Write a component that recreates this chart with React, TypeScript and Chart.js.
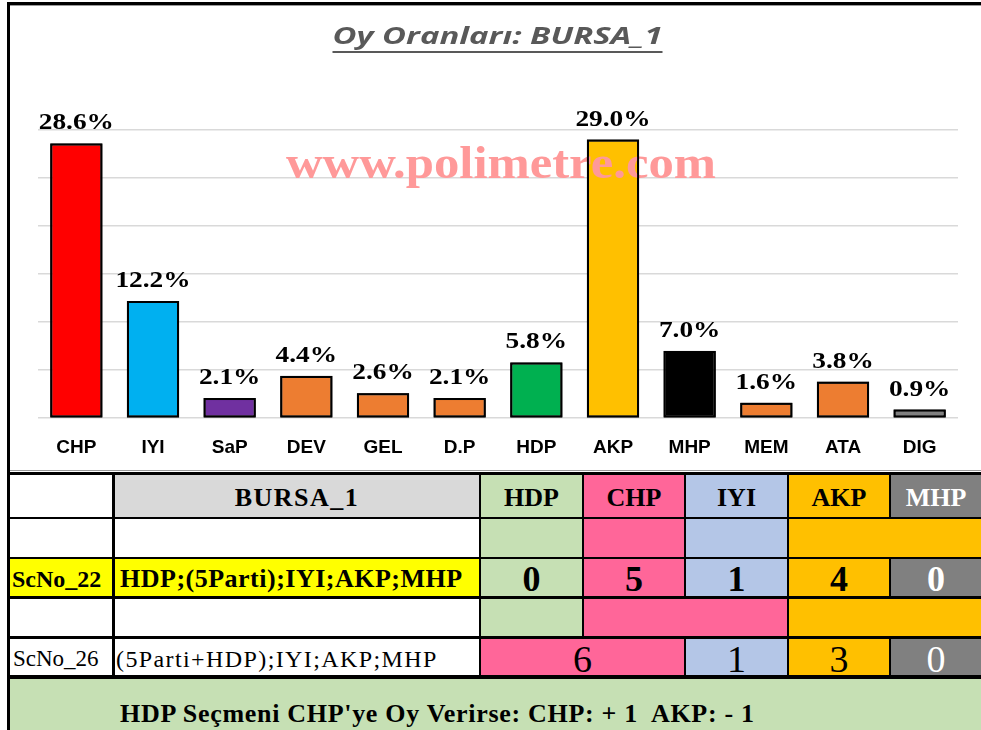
import React, { useEffect, useRef } from "react";
import { Chart, registerables } from "chart.js";

Chart.register(...registerables);

// ---------- chart data ----------
const categories = ["CHP", "IYI", "SaP", "DEV", "GEL", "D.P", "HDP", "AKP", "MHP", "MEM", "ATA", "DIG"];
const voteShares = [28.6, 12.2, 2.1, 4.4, 2.6, 2.1, 5.8, 29.0, 7.0, 1.6, 3.8, 0.9];
const barColors = [
  "#FF0000", "#00B0F0", "#7030A0", "#ED7D31", "#ED7D31", "#ED7D31",
  "#00B050", "#FFC000", "#000000", "#ED7D31", "#ED7D31", "#808080",
];
const yMin = 0;
const yMax = 30;
const yStep = 5;
const chartTitle = "Oy Oranları: BURSA_1";
const watermarkText = "www.polimetre.com";

// ---------- table data ----------
const districtName = "BURSA_1";
const tableParties = ["HDP", "CHP", "IYI", "AKP", "MHP"];
const tablePartyColors = ["#C6E0B4", "#FF6699", "#B4C6E7", "#FFC000", "#808080"];
const scenarioIds = ["ScNo_22", "ScNo_26"];
const scenarioOrders = ["HDP;(5Parti);IYI;AKP;MHP", "(5Parti+HDP);IYI;AKP;MHP"];
const scenario22Seats = [0, 5, 1, 4, 0];
const scenario26Seats = [6, 1, 3, 0]; // (HDP+CHP), IYI, AKP, MHP
const footnote = "HDP Seçmeni CHP'ye Oy Verirse: CHP: + 1  AKP: - 1";

const SERIF = "'Liberation Serif', 'Times New Roman', serif";

const overlayPlugin = {
  id: "overlay",
  afterDatasetsDraw(chart: any) {
    const ctx: CanvasRenderingContext2D = chart.ctx;
    const meta = chart.getDatasetMeta(0);

    // watermark
    ctx.save();
    ctx.font = "bold 46px 'Liberation Serif'";
    const ww = ctx.measureText(watermarkText).width;
    ctx.translate(276, 173);
    ctx.scale(430 / ww, 1);
    ctx.fillStyle = "#FF9999";
    ctx.textBaseline = "alphabetic";
    ctx.textAlign = "left";
    ctx.fillText(watermarkText, 0, 0);
    ctx.restore();

    // re-stroke bar borders above the watermark
    ctx.save();
    ctx.strokeStyle = "#000";
    ctx.lineWidth = 2;
    meta.data.forEach((bar: any) => {
      const p = bar.getProps(["x", "y", "base", "width"], true);
      ctx.strokeRect(p.x - p.width / 2 + 1, p.y + 1, p.width - 2, p.base - p.y - 2);
    });
    ctx.restore();

    // value labels
    ctx.save();
    ctx.font = "bold 24px 'Liberation Serif'";
    ctx.fillStyle = "#000";
    ctx.textAlign = "center";
    ctx.textBaseline = "alphabetic";
    meta.data.forEach((bar: any, i: number) => {
      const p = bar.getProps(["x", "y"], true);
      ctx.save();
      ctx.translate(p.x, p.y - 14);
      ctx.scale(1.14, 1);
      ctx.fillText(voteShares[i].toFixed(1) + "%", 0, 0);
      ctx.restore();
    });
    ctx.restore();

    // title with underline
    ctx.save();
    ctx.font = "italic bold 23px 'Open Sans'";
    const tw = ctx.measureText(chartTitle).width;
    const sx = 330 / tw;
    ctx.fillStyle = "#595959";
    ctx.textAlign = "center";
    ctx.textBaseline = "alphabetic";
    ctx.translate(487.5, 39);
    ctx.scale(sx, 1);
    ctx.fillText(chartTitle, 0, 0);
    ctx.restore();
    ctx.save();
    ctx.fillStyle = "#595959";
    ctx.fillRect(487.5 - 165, 46, 330, 2);
    ctx.restore();
  },
};

function ChartCanvas() {
  const ref = useRef<HTMLCanvasElement>(null);
  useEffect(() => {
    if (!ref.current) return;
    const chart = new Chart(ref.current, {
      type: "bar",
      data: {
        labels: categories,
        datasets: [
          {
            data: voteShares,
            backgroundColor: barColors,
            borderColor: "#000000",
            borderWidth: 2,
            borderSkipped: false,
            barPercentage: 0.68,
            categoryPercentage: 1.0,
          },
        ],
      },
      options: {
        responsive: false,
        animation: false,
        layout: { padding: { top: 125, left: 28, right: 23, bottom: 2 } },
        plugins: { legend: { display: false }, tooltip: { enabled: false }, title: { display: false } },
        scales: {
          x: {
            grid: { display: false, drawTicks: true, tickLength: 8 },
            border: { display: false },
            ticks: {
              color: "#000",
              padding: 10,
              font: { family: "'Liberation Sans', Arial, sans-serif", weight: "bold", size: 19 },
            },
          },
          y: {
            min: yMin,
            max: yMax,
            ticks: { stepSize: yStep, display: false },
            grid: { color: "#D9D9D9", lineWidth: 1.5, drawTicks: false },
            border: { display: false },
            afterFit: (s: any) => {
              s.width = 0;
            },
          },
        },
      },
      plugins: [overlayPlugin],
    });
    return () => chart.destroy();
  }, []);
  return (
    <canvas
      ref={ref}
      width={971}
      height={466}
      style={{ position: "absolute", left: 10, top: 5, width: 971, height: 466 }}
    />
  );
}

type CellProps = {
  x: [number, number];
  y: [number, number];
  bg: string;
  children?: React.ReactNode;
  style?: React.CSSProperties;
};

function Cell({ x, y, bg, children, style }: CellProps) {
  return (
    <div
      style={{
        position: "absolute",
        boxSizing: "border-box",
        left: x[0],
        top: y[0],
        width: x[1] - x[0],
        height: y[1] - y[0],
        background: bg,
        display: "flex",
        alignItems: "center",
        justifyContent: "center",
        fontFamily: SERIF,
        color: "#000",
        whiteSpace: "pre",
        overflow: "hidden",
        lineHeight: 1,
        ...style,
      }}
    >
      {children}
    </div>
  );
}

const C1: [number, number] = [10, 112];
const C2: [number, number] = [115, 479];
const PC: [number, number][] = [
  [481, 582],
  [584, 684],
  [686, 787],
  [789, 889],
  [891, 981],
];
const R: [number, number][] = [
  [475, 517],
  [519, 557],
  [559, 596],
  [599, 636],
  [639, 675],
  [679, 730],
];

function Table() {
  const hdr: React.CSSProperties = { fontWeight: "bold", fontSize: 26, paddingTop: 4 };
  const big: React.CSSProperties = { fontWeight: "bold", fontSize: 36, paddingTop: 3 };
  const big2: React.CSSProperties = { fontSize: 38, paddingTop: 3 };
  return (
    <>
      <div style={{ position: "absolute", left: 10, top: 470, width: 971, height: 1, background: "#9a9a9a" }} />
      <div style={{ position: "absolute", left: 7, top: 472, width: 974, height: 207, background: "#000" }} />
      {/* header */}
      <Cell x={C1} y={R[0]} bg="#FFFFFF" />
      <Cell x={C2} y={R[0]} bg="#D9D9D9" style={{ ...hdr, letterSpacing: 1.5 }}>{districtName}</Cell>
      {tableParties.map((p, i) => (
        <Cell key={p} x={PC[i]} y={R[0]} bg={tablePartyColors[i]} style={{ ...hdr, color: i === 4 ? "#fff" : "#000" }}>
          {p}
        </Cell>
      ))}
      {/* row 2 */}
      <Cell x={C1} y={R[1]} bg="#FFFFFF" />
      <Cell x={C2} y={R[1]} bg="#FFFFFF" />
      <Cell x={PC[0]} y={R[1]} bg={tablePartyColors[0]} />
      <Cell x={PC[1]} y={R[1]} bg={tablePartyColors[1]} />
      <Cell x={PC[2]} y={R[1]} bg={tablePartyColors[2]} />
      <Cell x={[PC[3][0], PC[4][1]]} y={R[1]} bg={tablePartyColors[3]} />
      {/* row 3: ScNo_22 */}
      <Cell x={C1} y={R[2]} bg="#FFFF00" style={{ fontWeight: "bold", fontSize: 24, justifyContent: "flex-start", paddingLeft: 2, paddingTop: 3 }}>
        {scenarioIds[0]}
      </Cell>
      <Cell x={C2} y={R[2]} bg="#FFFF00" style={{ fontWeight: "bold", fontSize: 26, justifyContent: "flex-start", paddingLeft: 5, paddingTop: 3, letterSpacing: 0.5 }}>
        {scenarioOrders[0]}
      </Cell>
      {scenario22Seats.map((v, i) => (
        <Cell key={i} x={PC[i]} y={R[2]} bg={tablePartyColors[i]} style={{ ...big, color: i === 4 ? "#fff" : "#000" }}>
          {String(v)}
        </Cell>
      ))}
      {/* row 4 */}
      <Cell x={C1} y={R[3]} bg="#FFFFFF" />
      <Cell x={C2} y={R[3]} bg="#FFFFFF" />
      <Cell x={PC[0]} y={R[3]} bg={tablePartyColors[0]} />
      <Cell x={[PC[1][0], PC[2][1]]} y={R[3]} bg={tablePartyColors[1]} />
      <Cell x={[PC[3][0], PC[4][1]]} y={R[3]} bg={tablePartyColors[3]} />
      {/* row 5: ScNo_26 */}
      <Cell x={C1} y={R[4]} bg="#FFFFFF" style={{ fontSize: 23, justifyContent: "flex-start", paddingLeft: 3, paddingTop: 3 }}>
        {scenarioIds[1]}
      </Cell>
      <Cell x={C2} y={R[4]} bg="#FFFFFF" style={{ fontSize: 24, justifyContent: "flex-start", paddingLeft: 1, paddingTop: 3, letterSpacing: 1.4 }}>
        {scenarioOrders[1]}
      </Cell>
      <Cell x={[PC[0][0], PC[1][1]]} y={R[4]} bg={tablePartyColors[1]} style={big2}>
        {String(scenario26Seats[0])}
      </Cell>
      {scenario26Seats.slice(1).map((v, i) => (
        <Cell key={i} x={PC[i + 2]} y={R[4]} bg={tablePartyColors[i + 2]} style={{ ...big2, color: i + 2 === 4 ? "#fff" : "#000" }}>
          {String(v)}
        </Cell>
      ))}
      {/* footnote row */}
      <Cell x={[10, 981]} y={R[5]} bg="#C6E0B4" style={{ justifyContent: "flex-start", alignItems: "flex-end", fontWeight: "bold", fontSize: 26, paddingLeft: 110, paddingBottom: 3, letterSpacing: 0.7 }}>
        {footnote}
      </Cell>
    </>
  );
}

export default function App() {
  return (
    <div style={{ position: "absolute", left: 0, top: 0, width: 981, height: 730, background: "#fff", overflow: "hidden" }}>
      <ChartCanvas />
      <div style={{ position: "absolute", left: 7, top: 2, width: 974, height: 3, background: "#000" }} />
      <div style={{ position: "absolute", left: 7, top: 5, width: 974, height: 1, background: "#9a9a9a" }} />
      <div style={{ position: "absolute", left: 7, top: 2, width: 3, height: 728, background: "#000" }} />
      <Table />
    </div>
  );
}
